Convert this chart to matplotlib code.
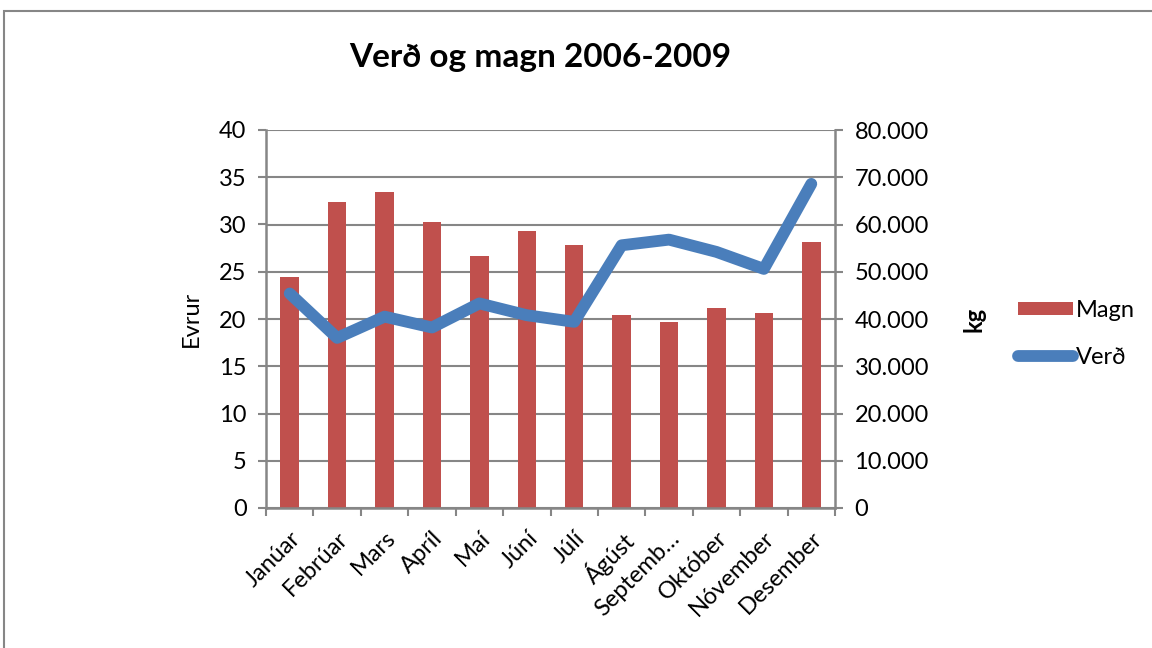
import numpy as np
import matplotlib
matplotlib.use("Agg")
import matplotlib.pyplot as plt
from matplotlib.patches import Rectangle

plt.rcParams['font.family'] = ['Lato', 'DejaVu Sans']

# Gögn
manudir = ['Janúar', 'Febrúar', 'Mars', 'Apríl', 'Maí', 'Júní', 'Júlí',
           'Ágúst', 'Septemb…', 'Október', 'Nóvember', 'Desember']
magn = [48900, 64800, 66900, 60600, 53400, 58700, 55600,
        40900, 39400, 42300, 41300, 56400]
verd = [22.7, 18.0, 20.25, 19.1, 21.65, 20.4, 19.7,
        27.8, 28.4, 27.1, 25.3, 34.3]
vinstri_ticks = [0, 5, 10, 15, 20, 25, 30, 35, 40]
haegri_ticks = [0, 10000, 20000, 30000, 40000, 50000, 60000, 70000, 80000]

grar = '#868686'
rautt = '#C0504D'
blatt = '#4A7EBB'

fig = plt.figure(figsize=(11.52, 6.48), dpi=100)
ax = fig.add_axes([266/1152, 1 - 508/648, (835-266)/1152, (508-130)/648])
ax2 = ax.twinx()

x = np.arange(len(manudir))
b = ax2.bar(x, magn, width=0.39, color=rautt, label='Magn', zorder=2)
ln, = ax.plot(x, verd, color=blatt, lw=8.5, solid_capstyle='round',
              solid_joinstyle='round', label='Verð', zorder=3)
ax.set_zorder(ax2.get_zorder() + 1)
ax.patch.set_visible(False)

ax.set_xlim(-0.5, len(manudir) - 0.5)
ax.set_ylim(0, 40)
ax2.set_ylim(0, 80000)
ax.set_yticks(vinstri_ticks)
ax2.set_yticks(haegri_ticks)
ax2.set_yticklabels([f'{v:,}'.replace(',', '.') for v in haegri_ticks])

# gridlines drawn on the bar axes so they sit behind the bars
for v in vinstri_ticks:
    ax2.axhline(v * 2000, color=grar, lw=1.5, zorder=1)

ax.set_xticks(x)
ax.set_xticklabels(manudir, rotation=45, ha='right', rotation_mode='anchor',
                   fontsize=17)
ax.set_xticks(np.arange(-0.5, len(manudir)), minor=True)
ax.tick_params(axis='x', which='major', length=0, pad=14)
ax.tick_params(axis='x', which='minor', length=6, width=1.5, color=grar)
ax.tick_params(axis='y', length=6, width=1.5, color=grar, labelsize=17, pad=8)
ax2.tick_params(axis='y', length=6, width=1.5, color=grar, labelsize=17, pad=8)

for a in (ax, ax2):
    for s in a.spines.values():
        s.set_visible(False)
for a, side in ((ax, 'left'), (ax, 'bottom'), (ax2, 'right')):
    a.spines[side].set_visible(True)
    a.spines[side].set_color(grar)
    a.spines[side].set_linewidth(1.8)

ax.set_ylabel('Evrur', fontsize=17, labelpad=12)
ax2.set_ylabel('kg', fontsize=17, fontweight='bold', labelpad=24)

fig.text(540/1152, 1 - 57/648, 'Verð og magn 2006-2009', ha='center',
         va='center', fontsize=24, fontweight='bold')

fig.legend(handles=[b, ln], labels=['Magn', 'Verð'], loc='center left',
           bbox_to_anchor=(997/1152, 1 - 334/648), frameon=False,
           fontsize=17, handlelength=2.3, handleheight=0.5,
           handletextpad=0.15, labelspacing=1.1)

fig.add_artist(Rectangle((4/1152, -0.1), 1.2, 1.1 - 11/648,
                         transform=fig.transFigure, fill=False,
                         edgecolor=grar, lw=1.5))

fig.savefig('out.png', dpi=100)
